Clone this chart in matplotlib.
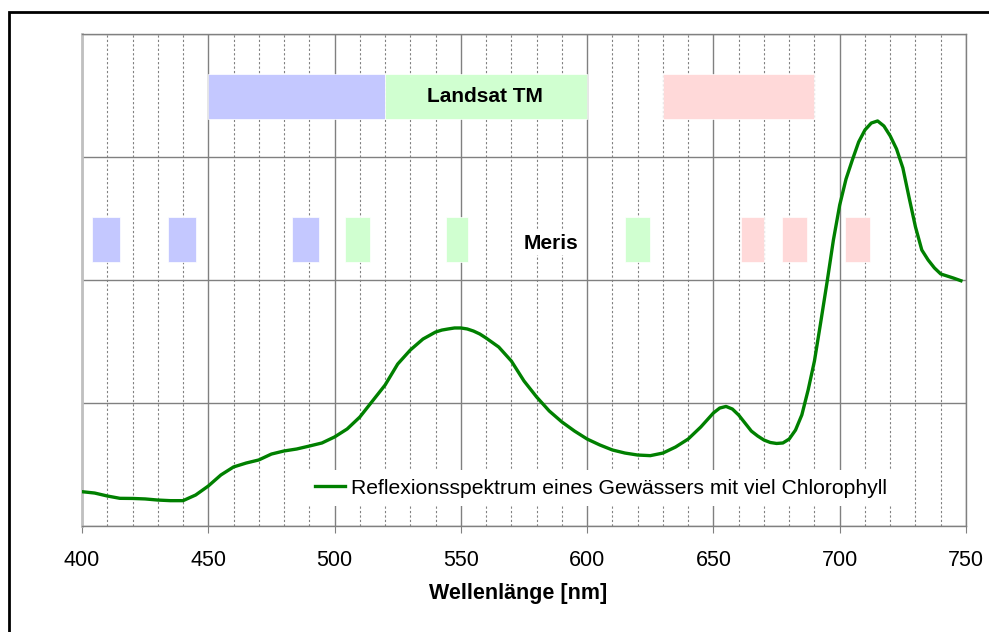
import matplotlib
matplotlib.use("Agg")
import matplotlib.pyplot as plt
from matplotlib.patches import Rectangle
from matplotlib.ticker import MultipleLocator

plt.rcParams['font.family'] = ['Liberation Sans', 'DejaVu Sans']

# spectrum (wavelength nm, relative reflectance)
wavelength = [400, 405, 410, 415, 420, 425, 430, 435, 440, 445, 450, 455, 460,
              465, 470, 475, 480, 485, 490, 495, 500, 505, 510, 515, 520, 525,
              530, 535, 540, 542.5, 545, 547.5, 550, 552.5, 555, 557.5, 560,
              565, 570, 575, 580, 585, 590, 595, 600, 605, 610, 615, 620, 625,
              630, 635, 640, 645, 650, 652.5, 655, 657.5, 660, 662.5, 665,
              667.5, 670, 672.5, 675, 677.5, 680, 682.5, 685, 687.5, 690,
              692.5, 695, 697.5, 700, 702.5, 705, 707.5, 710, 712.5, 715,
              717.5, 720, 722.5, 725, 727.5, 730, 732.5, 735, 737.5, 740, 745,
              748]
reflectance = [0.279, 0.268, 0.244, 0.225, 0.224, 0.220, 0.211, 0.206, 0.206,
               0.252, 0.325, 0.415, 0.480, 0.512, 0.537, 0.585, 0.610, 0.626,
               0.650, 0.675, 0.724, 0.789, 0.886, 1.016, 1.146, 1.317, 1.431,
               1.520, 1.577, 1.593, 1.602, 1.610, 1.610, 1.602, 1.585, 1.561,
               1.528, 1.455, 1.341, 1.179, 1.049, 0.935, 0.846, 0.772, 0.707,
               0.659, 0.618, 0.593, 0.577, 0.572, 0.593, 0.642, 0.707, 0.805,
               0.919, 0.959, 0.972, 0.951, 0.902, 0.837, 0.772, 0.732, 0.699,
               0.679, 0.671, 0.675, 0.707, 0.780, 0.903, 1.106, 1.342, 1.659,
               1.984, 2.325, 2.610, 2.821, 2.976, 3.122, 3.220, 3.276, 3.293,
               3.252, 3.171, 3.065, 2.911, 2.667, 2.431, 2.244, 2.163, 2.098,
               2.049, 2.016, 1.994]

# sensor bands (start, end) in nm
landsat_bands = [(450, 520), (520, 600), (630, 690)]
meris_bands = [(404, 415), (434, 445), (483, 494), (504, 514), (544, 553),
               (615, 625), (661, 670), (677, 687), (702, 712)]

BLUE = '#c4c8ff'
GREEN = '#d0ffd0'
PINK = '#ffd9d9'
landsat_colors = [BLUE, GREEN, PINK]
meris_colors = [BLUE, BLUE, BLUE, GREEN, GREEN, GREEN, PINK, PINK, PINK]

fig = plt.figure(figsize=(9.89, 6.32), dpi=100)
ax = fig.add_axes([82 / 989, 106 / 632, 884 / 989, 492 / 632])

# outer frame (only left and top edges visible in the reference)
fig.add_artist(Rectangle((9 / 989, -0.1), 1.2, 1.1 - 12 / 632,
                         transform=fig.transFigure, fill=False,
                         edgecolor='black', linewidth=2))

ax.set_xlim(400, 750)
ax.set_ylim(0, 4)

ax.xaxis.set_major_locator(MultipleLocator(50))
ax.xaxis.set_minor_locator(MultipleLocator(10))
ax.yaxis.set_major_locator(MultipleLocator(1))
ax.set_yticklabels([])
ax.tick_params(axis='y', length=0)
ax.tick_params(axis='x', which='major', length=5, color='#808080',
               labelsize=15.5, pad=12)
ax.tick_params(axis='x', which='minor', length=0)

ax.set_axisbelow(True)
ax.grid(True, axis='x', which='minor', color='#808080', linestyle=(0, (2, 2)),
        linewidth=0.8)
ax.grid(True, axis='x', which='major', color='#808080', linestyle='-',
        linewidth=1.0)
ax.grid(True, axis='y', which='major', color='#808080', linestyle='-',
        linewidth=1.0)

for side in ['top', 'right', 'bottom']:
    ax.spines[side].set_color('#808080')
    ax.spines[side].set_linewidth(1.0)
ax.spines['left'].set_color('#c0c0c0')
ax.spines['left'].set_linewidth(2.0)

for (x0, x1), c in zip(landsat_bands, landsat_colors):
    ax.add_patch(Rectangle((x0, 3.31), x1 - x0, 0.365, facecolor=c,
                           edgecolor='white', linewidth=0.5, zorder=2))
for (x0, x1), c in zip(meris_bands, meris_colors):
    ax.add_patch(Rectangle((x0, 2.15), x1 - x0, 0.36, facecolor=c,
                           edgecolor='white', linewidth=0.5, zorder=2))

ax.text(559.5, 3.49, 'Landsat TM', ha='center', va='center', fontsize=15,
        fontweight='bold', zorder=4)
ax.text(585.7, 2.30, 'Meris', ha='center', va='center', fontsize=15,
        fontweight='bold', zorder=4,
        bbox=dict(facecolor='white', edgecolor='none', pad=2))

ax.plot(wavelength, reflectance, color='#008000', linewidth=2.4, zorder=5,
        solid_joinstyle='round',
        label='Reflexionsspektrum eines Gewässers mit viel Chlorophyll')

leg = ax.legend(loc='center', bbox_to_anchor=(0.587, 0.077), fontsize=15.2,
                frameon=True, fancybox=False, framealpha=1,
                facecolor='white', edgecolor='none', handlelength=1.4,
                handletextpad=0.3, borderpad=0.4)
leg.set_zorder(6)

ax.set_xlabel('Wellenlänge [nm]', fontsize=15.5, fontweight='bold')
ax.xaxis.set_label_coords(0.493, -0.115)

fig.savefig('out.png', dpi=100)
